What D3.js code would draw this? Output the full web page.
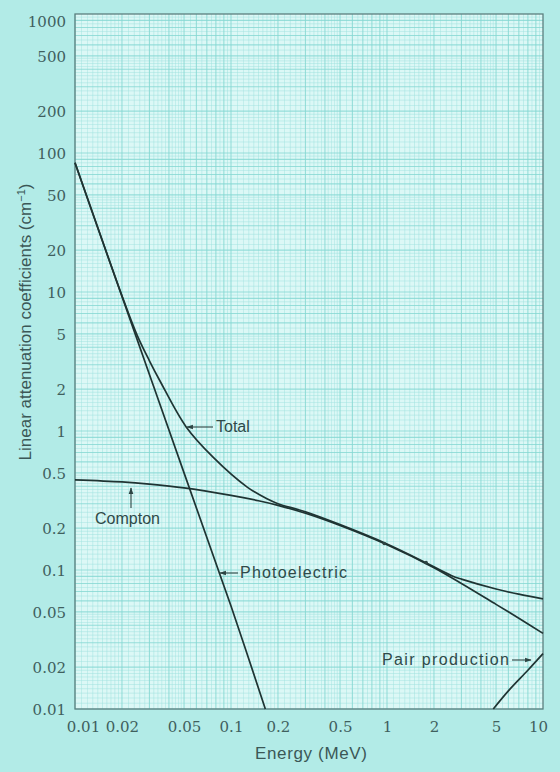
<!DOCTYPE html>
<html>
<head>
<meta charset="utf-8">
<script src="https://cdn.jsdelivr.net/npm/d3@7"></script>
<style>
  html, body { margin: 0; padding: 0; background: #b2ebe7; }
  svg { display: block; }
</style>
</head>
<body>
<svg id="chart" width="560" height="772"></svg>
<script>
// Linear attenuation coefficients versus photon energy (log-log)
const energyTicks = [0.01, 0.02, 0.05, 0.1, 0.2, 0.5, 1, 2, 5, 10];
const energyTickLabels = ["0.01", "0.02", "0.05", "0.1", "0.2", "0.5", "1", "2", "5", "10"];
const coefTicks = [0.01, 0.02, 0.05, 0.1, 0.2, 0.5, 1, 2, 5, 10, 20, 50, 100, 200, 500, 1000];
const coefTickLabels = ["0.01", "0.02", "0.05", "0.1", "0.2", "0.5", "1", "2", "5", "10", "20", "50", "100", "200", "500", "1000"];

const totalEnergy = [0.01, 0.02, 0.025, 0.03, 0.035, 0.0516, 0.077, 0.127, 0.17, 0.2, 0.3, 0.5, 1, 1.8, 2.6, 3, 5, 7, 10];
const totalValue  = [85, 9.4, 4.9, 3.2, 2.3, 1.07, 0.646, 0.395, 0.325, 0.300, 0.262, 0.212, 0.154, 0.112, 0.091, 0.086, 0.073, 0.067, 0.062];

const comptonEnergy = [0.01, 0.02, 0.03, 0.05, 0.1, 0.15, 0.2, 0.3, 0.5, 1, 2, 3, 5, 7, 10];
const comptonValue  = [0.445, 0.43, 0.415, 0.39, 0.344, 0.315, 0.292, 0.256, 0.209, 0.152, 0.104, 0.080, 0.0566, 0.045, 0.035];

const photoEnergy = [0.01, 0.02, 0.05, 0.1, 0.166];
const photoValue  = [85, 9.3, 0.50, 0.055, 0.01];

const pairEnergy = [4.8, 6, 8, 10];
const pairValue  = [0.01, 0.0135, 0.019, 0.025];

const dotEnergy = [0.96, 1.78];
const dotValue  = [0.155, 0.113];

const svg = d3.select("#chart");
const x = d3.scaleLog().domain([0.01, 10]).range([75, 543]);
const y = d3.scaleLog().domain([0.01, 1000]).range([709, 14]);

// plot paper
svg.append("rect")
  .attr("x", x(0.01)).attr("y", y(1000))
  .attr("width", x(10) - x(0.01)).attr("height", y(0.01) - y(1000))
  .attr("fill", "#dcf8f6");

// log graph-paper rulings
function rulings(lo, hi) {
  const minor = [], major = [];
  for (let d = lo; d < hi * 0.999; d *= 10) {
    for (let m = 1; m < 10 - 1e-9; ) {
      const v = +(m * d).toPrecision(6);
      if (Math.abs(m - Math.round(m)) < 1e-9) major.push(v); else minor.push(v);
      m += m < 2 - 1e-9 ? 0.1 : (m < 5 - 1e-9 ? 0.2 : 0.5);
      m = +m.toFixed(4);
    }
  }
  return { minor, major };
}
const gx = rulings(0.01, 10), gy = rulings(0.01, 1000);
const grid = svg.append("g");
function vLines(vals, color, w, op) {
  grid.append("g").selectAll("line").data(vals).join("line")
    .attr("x1", d => x(d)).attr("x2", d => x(d))
    .attr("y1", y(1000)).attr("y2", y(0.01))
    .attr("stroke", color).attr("stroke-width", w).attr("opacity", op);
}
function hLines(vals, color, w, op) {
  grid.append("g").selectAll("line").data(vals).join("line")
    .attr("y1", d => y(d)).attr("y2", d => y(d))
    .attr("x1", x(0.01)).attr("x2", x(10))
    .attr("stroke", color).attr("stroke-width", w).attr("opacity", op);
}
vLines(gx.minor, "#9fe3df", 0.7, 0.7);
hLines(gy.minor, "#9fe3df", 0.7, 0.7);
vLines(gx.major, "#85d8d3", 1.1, 0.8);
hLines(gy.major, "#85d8d3", 1.1, 0.8);

// frame
svg.append("rect")
  .attr("x", x(0.01)).attr("y", y(1000))
  .attr("width", x(10) - x(0.01)).attr("height", y(0.01) - y(1000))
  .attr("fill", "none").attr("stroke", "#5d7f7e").attr("stroke-width", 1.3);

// axes
const tickFont = "'DejaVu Serif', 'Liberation Serif', serif";
const xAxis = svg.append("g").attr("transform", `translate(0,${y(0.01)})`)
  .call(d3.axisBottom(x).tickValues(energyTicks).tickSize(0).tickPadding(12)
    .tickFormat((d, i) => energyTickLabels[i]));
xAxis.select(".domain").remove();
xAxis.selectAll("text")
  .attr("font-family", tickFont).attr("font-size", 15).attr("fill", "#405f5e")
  .attr("dx", (d, i) => i === 0 ? 8 : (i === energyTicks.length - 1 ? -5 : 0));

const yAxis = svg.append("g").attr("transform", `translate(${x(0.01)},0)`)
  .call(d3.axisLeft(y).tickValues(coefTicks).tickSize(0).tickPadding(9)
    .tickFormat((d, i) => coefTickLabels[i]));
yAxis.select(".domain").remove();
yAxis.selectAll("text")
  .attr("font-family", tickFont).attr("font-size", 15).attr("fill", "#405f5e")
  .attr("dy", (d, i) => i === coefTicks.length - 1 ? "0.85em" : "0.35em");

// axis titles
const labelFont = "'Liberation Sans', Arial, sans-serif";
const yTitle = svg.append("text")
  .attr("transform", "translate(31,322) rotate(-90)")
  .attr("text-anchor", "middle")
  .attr("font-family", labelFont).attr("font-size", 17).attr("fill", "#3b5756");
yTitle.append("tspan").text("Linear attenuation coefficients (cm");
yTitle.append("tspan").attr("baseline-shift", "super").attr("font-size", 11).text("−1");
yTitle.append("tspan").text(")");

svg.append("text")
  .attr("x", 311).attr("y", 759)
  .attr("text-anchor", "middle")
  .attr("font-family", labelFont).attr("font-size", 17).attr("fill", "#3b5756")
  .attr("textLength", 112)
  .text("Energy (MeV)");

// curves
const line = d3.line().x(d => x(d[0])).y(d => y(d[1])).curve(d3.curveCatmullRom.alpha(0.5));
const series = [
  d3.zip(photoEnergy, photoValue),
  d3.zip(comptonEnergy, comptonValue),
  d3.zip(totalEnergy, totalValue),
  d3.zip(pairEnergy, pairValue)
];
svg.append("g").selectAll("path").data(series).join("path")
  .attr("d", line)
  .attr("fill", "none").attr("stroke", "#1f3433").attr("stroke-width", 1.7)
  .attr("stroke-linejoin", "round");

svg.append("g").selectAll("circle").data(d3.zip(dotEnergy, dotValue)).join("circle")
  .attr("cx", d => x(d[0])).attr("cy", d => y(d[1])).attr("r", 1.8)
  .attr("fill", "#2d4443");

// annotations
const defs = svg.append("defs");
defs.append("marker").attr("id", "head")
  .attr("viewBox", "0 0 10 10").attr("refX", 9).attr("refY", 5)
  .attr("markerWidth", 6).attr("markerHeight", 6).attr("orient", "auto-start-reverse")
  .append("path").attr("d", "M0,1.5 L10,5 L0,8.5 Z").attr("fill", "#2d4443");

const notes = svg.append("g").attr("font-family", labelFont).attr("font-size", 16).attr("fill", "#2f4a49");
function arrow(x1, y1, x2, y2) {
  notes.append("line").attr("x1", x1).attr("y1", y1).attr("x2", x2).attr("y2", y2)
    .attr("stroke", "#2d4443").attr("stroke-width", 1.1).attr("marker-end", "url(#head)");
}
// Total
arrow(213, 427, 187, 427);
notes.append("text").attr("x", 216).attr("y", 432).text("Total");
// Compton
arrow(131, 508, 131, 488);
notes.append("text").attr("x", 95).attr("y", 524).text("Compton");
// Photoelectric
arrow(238, 573, 220, 573);
notes.append("text").attr("x", 240).attr("y", 578).attr("textLength", 107).text("Photoelectric");
// Pair production
arrow(512, 660, 531, 660);
notes.append("text").attr("x", 382).attr("y", 665).attr("textLength", 127).text("Pair production");
</script>
</body>
</html>
